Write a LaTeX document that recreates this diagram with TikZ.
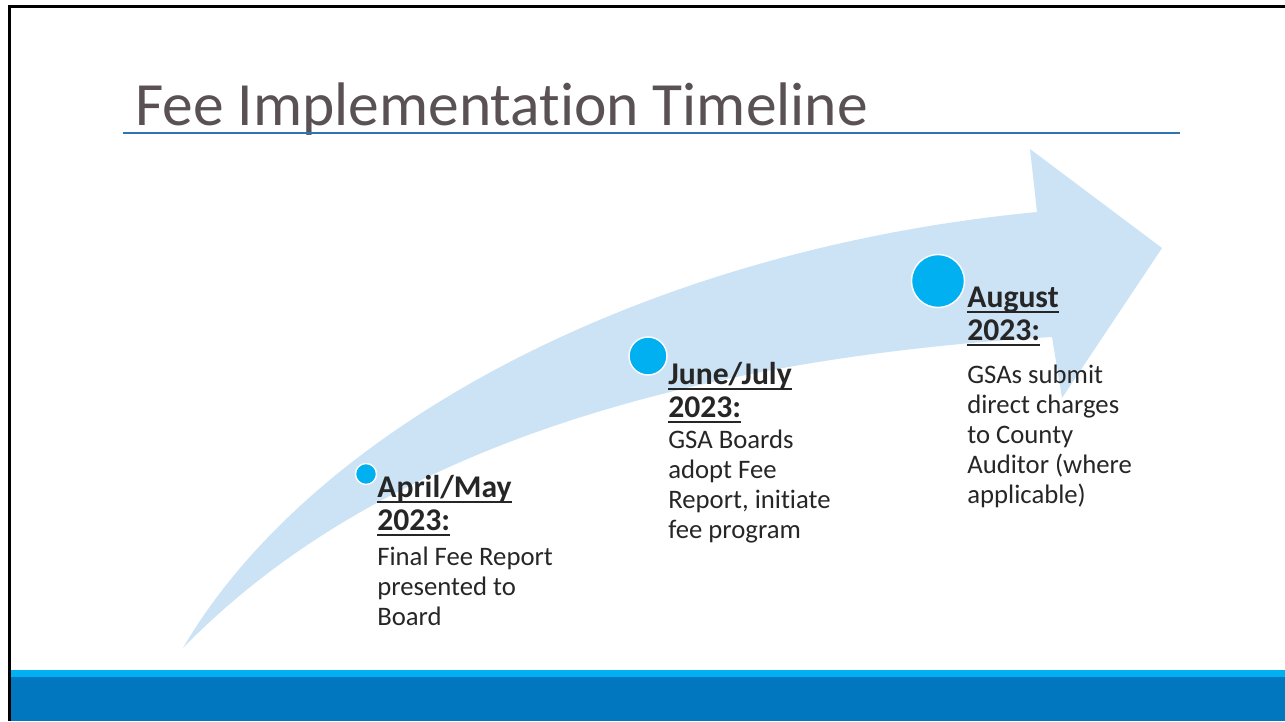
\documentclass[tikz,border=0pt]{standalone}
\usepackage{fontspec}
\setmainfont{Carlito}[Ligatures=NoCommon]
\usetikzlibrary{positioning}
\definecolor{cpale}{HTML}{CCE3F6}
\definecolor{cdot}{HTML}{00B0F0}
\definecolor{cband}{HTML}{0077BE}
\definecolor{ctitle}{HTML}{595154}
\definecolor{crule}{HTML}{2E75B6}
\definecolor{ctext}{HTML}{262626}
% bold date with a rule under each line
\newcommand{\undl}[1]{\setbox0\hbox{#1}\rlap{\rule[-3.4pt]{\wd0}{1.1pt}}\box0}
\tikzset{
  milestone/.style={circle, fill=cdot, draw=white, line width=0.8pt, inner sep=0pt, minimum size=#1},
  when/.style={anchor=base west, inner sep=0pt, align=left, text=ctext, font=\fontsize{18}{18.7}\selectfont\bfseries},
  what/.style={anchor=base west, inner sep=0pt, align=left, text=ctext, font=\fontsize{15.2}{17}\selectfont},
  title/.style={anchor=base west, inner sep=0pt, text=ctitle, font=\fontsize{35}{40}\selectfont},
}

\begin{document}
\begin{tikzpicture}[x=0.02cm, y=-0.02cm]
  \useasboundingbox (0,0) rectangle (1285,721);
  % footer band and frame
  \fill[cband] (11,677) rectangle (1285,721);
  \fill[cdot] (11,670) rectangle (1285,677);
  \draw[line width=1.7pt] (9.5,721) -- (9.5,6.5) -- (1285,6.5);
  % heading
  \node[title] (head) at (135,125) {Fee Implementation Timeline};
  \draw[crule, line width=0.7pt] (123,133) -- (1180,133);
  % curved arrow
  \fill[cpale] (183,648) .. controls (310,430) and (640,250) .. (1037,212)
    -- (1030,149) -- (1162,248) -- (1062,398) -- (1052,337)
    .. controls (750,355) and (400,425) .. (183,648) -- cycle;
  % milestones: dot, date, description (nodes sit on their last baseline)
  \foreach \x/\y/\d/\tx/\ty/\by/\date/\desc [count=\i] in {
      366/474/0.42cm/377/530/625/{April/May}/{Final Fee Report\\presented to\\Board},
      648/356/0.76cm/668/417/538/{June/July}/{GSA Boards\\adopt Fee\\Report, initiate\\fee program},
      938/281/1.06cm/967/340/503/{August}/{GSAs submit\\direct charges\\to County\\Auditor (where\\applicable)}} {
    \node[milestone=\d] (m\i) at (\x,\y) {};
    \node[when] (t\i) at (\tx,\ty) {\undl{\date}\\\undl{2023:}};
    \node[what] (d\i) at (\tx,\by) {\desc};
  }
\end{tikzpicture}
\end{document}
